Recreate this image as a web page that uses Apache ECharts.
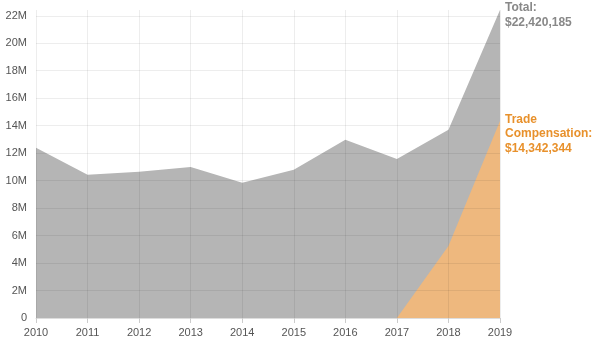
<!DOCTYPE html>
<html>
<head>
<meta charset="utf-8">
<script src="https://cdn.jsdelivr.net/npm/echarts@6/dist/echarts.min.js"></script>
<style>
  html, body { margin: 0; padding: 0; background: #fff; }
  #chart { width: 600px; height: 353px; }
</style>
</head>
<body>
<div id="chart"></div>
<script>
// data
const years = ["2010", "2011", "2012", "2013", "2014", "2015", "2016", "2017", "2018", "2019"];
const totalValues = [12400000, 10420000, 10640000, 11000000, 9840000, 10800000, 12970000, 11570000, 13700000, 22420185];
const tradeValues = [null, null, null, null, null, null, null, 0, 5250000, 14342344];

const fmtMoney = (v) => "$" + Math.round(v).toLocaleString("en-US");

const chart = echarts.init(document.getElementById("chart"));

const option = {
  animation: false,
  textStyle: { fontFamily: "Liberation Sans, Arial, sans-serif" },
  grid: { left: 36, right: 100, top: 10, bottom: 35 },
  xAxis: {
    type: "category",
    data: years,
    boundaryGap: false,
    z: 3,
    axisLine: { lineStyle: { color: "#ddd" } },
    axisTick: { lineStyle: { color: "#ccc" }, length: 5 },
    axisLabel: { color: "#555", fontSize: 11, margin: 9 },
    splitLine: { show: true, lineStyle: { color: "rgba(0,0,0,0.07)" } }
  },
  yAxis: {
    type: "value",
    min: 0,
    max: "dataMax",
    interval: 2000000,
    z: 3,
    axisLine: { show: false },
    axisTick: { show: false },
    axisLabel: {
      color: "#555",
      fontSize: 11,
      margin: 9,
      showMaxLabel: false,
      formatter: (v) => (v === 0 ? "0" : v / 1000000 + "M")
    },
    splitLine: { showMaxLine: false, lineStyle: { color: "rgba(0,0,0,0.07)" } }
  },
  series: [
    {
      name: "Total",
      type: "line",
      data: totalValues,
      symbol: "none",
      z: 1,
      lineStyle: { width: 0 },
      areaStyle: { color: "#b5b5b5", opacity: 1 },
      endLabel: {
        show: true,
        formatter: (p) => "Total:\n" + fmtMoney(p.value),
        color: "#888",
        fontSize: 12,
        fontWeight: "bold",
        lineHeight: 15,
        distance: 5,
        offset: [0, 5]
      }
    },
    {
      name: "Trade Compensation",
      type: "line",
      data: tradeValues,
      symbol: "none",
      z: 2,
      lineStyle: { width: 0 },
      areaStyle: { color: "#eeb87e", opacity: 1 },
      endLabel: {
        show: true,
        formatter: (p) => "Trade\nCompensation:\n" + fmtMoney(p.value),
        color: "#e8912c",
        fontSize: 12,
        fontWeight: "bold",
        lineHeight: 14.5,
        distance: 5,
        offset: [0, 13]
      }
    }
  ]
};

chart.setOption(option);
</script>
</body>
</html>
